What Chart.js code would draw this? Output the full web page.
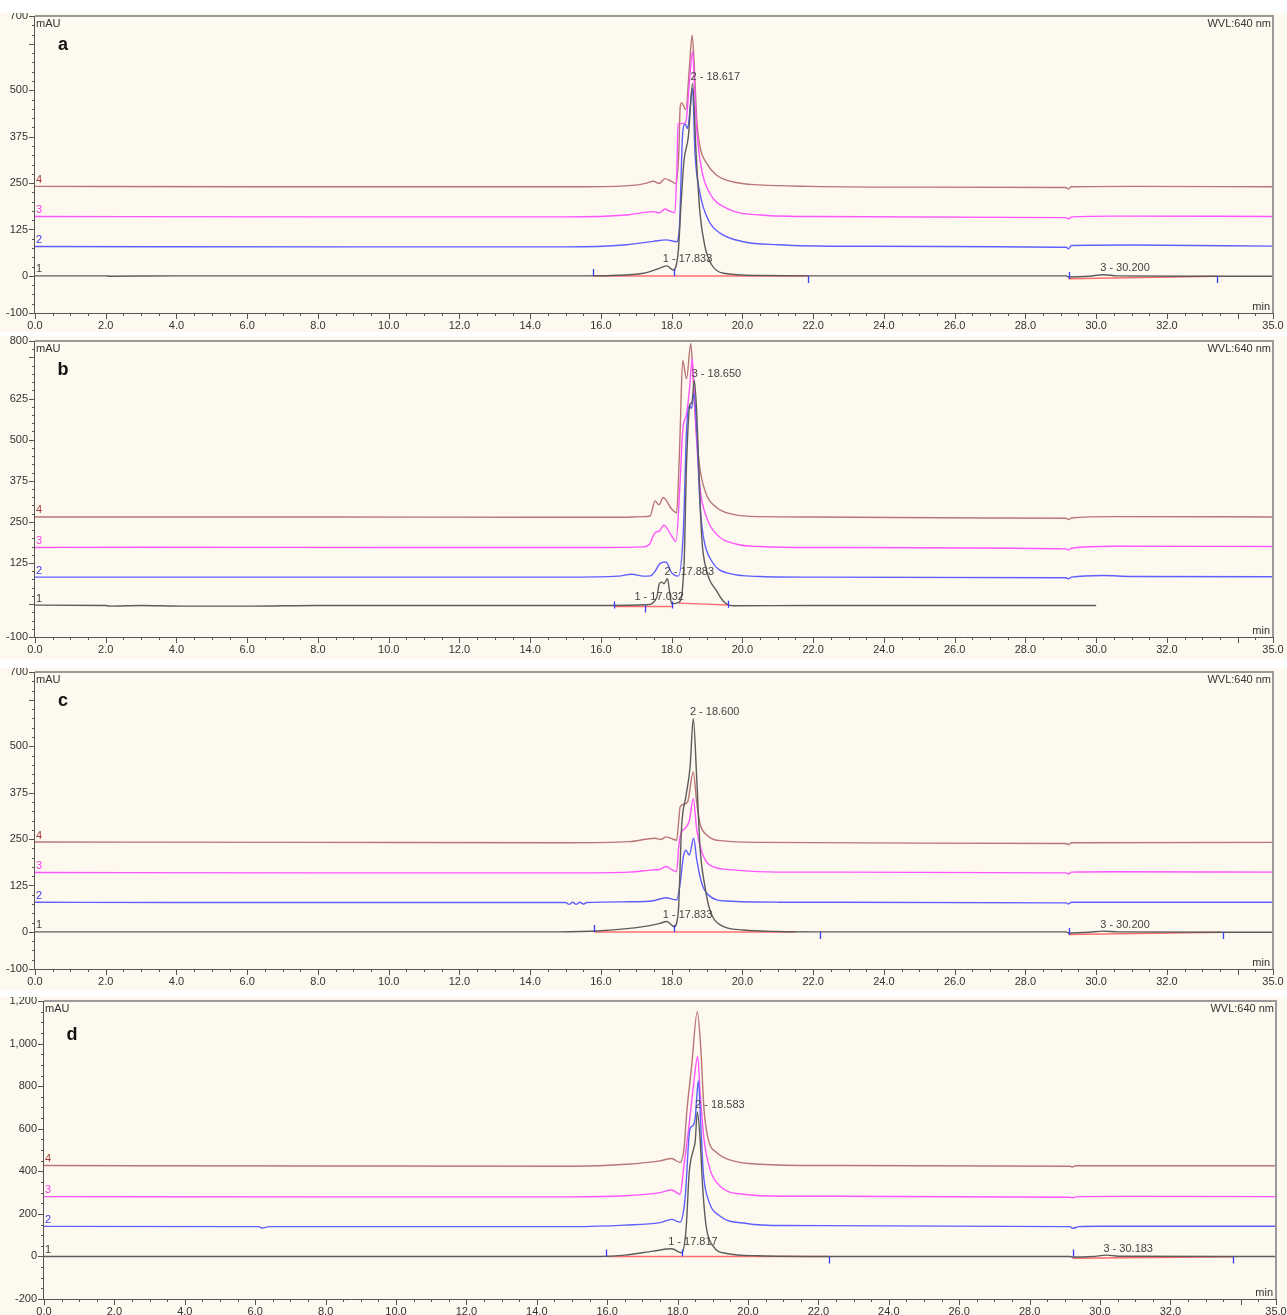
<!DOCTYPE html>
<html>
<head>
<meta charset="utf-8">
<script src="https://cdn.jsdelivr.net/npm/chart.js@4.4.1/dist/chart.umd.min.js"></script>
<style>
body { margin: 0; background: #fff; width: 1287px; height: 1315px; position: relative; overflow: hidden; }
canvas.panel { position: absolute; left: 0; }
</style>
</head>
<body>
<canvas id="chart-a" class="panel"></canvas>
<canvas id="chart-b" class="panel"></canvas>
<canvas id="chart-c" class="panel"></canvas>
<canvas id="chart-d" class="panel"></canvas>
<script>
// retention time (min) and signal (mAU)
const xLabels = [0, 2, 4, 6, 8, 10, 12, 14, 16, 18, 20, 22, 24, 26, 28, 30, 32, 35]

// ---- a ----
const a1 = [[0,0],[2,0],[2.1,-1],[4,0],[8,0],[15.5,0],[16.3,1],[17.2,7],[17.67,21],[17.86,27],[18.05,16],[18.19,70],[18.26,186],[18.35,312],[18.47,374],[18.59,518],[18.69,330],[18.8,169],[18.94,79],[19.13,30],[19.46,7],[20.5,1],[22,0],[29.15,0],[29.22,-3],[29.8,-1],[30.2,3],[30.6,0],[33.4,-1],[35,-1]]
const a2 = [[0,79],[10,78],[15,78],[16.73,84],[17.48,93],[17.84,97],[18.14,92],[18.22,133],[18.31,384],[18.38,409],[18.45,397],[18.52,450],[18.59,505],[18.66,330],[18.8,222],[19.04,150],[19.37,115],[20.03,92],[21,84],[23,80],[29.15,77],[29.22,73],[29.3,82],[31,83],[35,80]]
const a3 = [[0,160],[8,159],[15,159],[16.73,164],[17.48,173],[17.65,170],[17.81,180],[17.95,174],[18.09,170],[18.15,300],[18.18,410],[18.28,410],[18.4,415],[18.5,520],[18.59,603],[18.65,500],[18.71,392],[18.85,285],[19.08,222],[19.56,182],[20.5,164],[22,160],[29.15,157],[29.22,153],[29.3,159],[30.5,161],[35,160]]
const a4 = [[0,241],[6,240],[12,240],[15.5,240],[16.8,243],[17.3,250],[17.48,255],[17.65,249],[17.81,262],[17.98,255],[18.12,249],[18.2,330],[18.24,455],[18.28,466],[18.4,448],[18.5,560],[18.58,648],[18.65,540],[18.71,419],[18.8,348],[18.99,303],[19.27,271],[19.74,253],[20.5,245],[21.9,241],[25,239],[29.15,238],[29.22,234],[29.3,240],[31,241],[35,240]]
const redA = [[[15.78,0],[21.85,0]], [[29.22,-8],[33.42,-1]]]
const marksA = [[15.78,0,-1],[18.07,0,-1],[21.85,0,1],[29.22,0,0],[33.42,0,1]]
const peaksA = [[18.617,518,'2 - 18.617'],[17.833,27,'1 - 17.833'],[30.2,3,'3 - 30.200']]

// ---- b ----
const b1 = [[0,-3],[2,-4],[2.1,-6],[3,-4],[4.2,-6],[6.1,-6],[8,-4],[14,-4],[16.3,-4],[17.3,-2],[17.58,21],[17.65,62],[17.72,67],[17.78,62],[17.88,77],[17.95,31],[18.0,1],[18.2,5],[18.35,122],[18.42,426],[18.52,608],[18.57,612],[18.64,680],[18.71,578],[18.78,375],[18.85,202],[18.99,101],[19.27,40],[19.46,9],[19.74,-5],[22,-4],[30.0,-4]]
const b2 = [[0,82],[8,82],[15,82],[16.5,85],[16.87,91],[17.2,85],[17.4,86],[17.53,100],[17.67,123],[17.84,128],[18.0,95],[18.19,85],[18.33,223],[18.42,527],[18.5,604],[18.56,595],[18.63,640],[18.71,527],[18.8,304],[18.9,202],[19.13,131],[19.56,95],[20.5,84],[22,82],[29.15,80],[29.22,77],[29.3,82],[30.2,87],[31,84],[35,83]]
const b3 = [[0,172],[3,173],[10,172],[16,172],[17.2,174],[17.37,182],[17.53,217],[17.65,222],[17.78,240],[18.0,207],[18.12,190],[18.24,375],[18.31,527],[18.42,578],[18.5,650],[18.58,746],[18.64,640],[18.69,527],[18.8,355],[18.99,263],[19.27,212],[19.84,182],[20.5,175],[22,172],[29.15,168],[29.22,165],[29.3,170],[30.5,176],[35,175]]
const b4 = [[0,265],[8,265],[14,264],[16.5,264],[17.2,266],[17.39,268],[17.53,314],[17.64,302],[17.76,324],[18.0,289],[18.14,278],[18.2,400],[18.24,527],[18.31,741],[18.42,685],[18.54,792],[18.6,700],[18.66,578],[18.78,426],[18.94,345],[19.27,294],[19.74,273],[20.5,266],[22,265],[27,262],[29.15,261],[29.22,257],[29.3,262],[30.5,266],[35,265]]
const redB = [[[16.37,-7],[18.0,-7]], [[18.2,3],[19.58,-3]]]
const marksB = [[16.37,-4,0],[17.25,-4,1],[18.0,-4,0],[19.58,-2,0]]
const peaksB = [[18.65,680,'3 - 18.650'],[17.883,77,'2 - 17.883'],[17.032,3,'1 - 17.032']]

// ---- c ----
const c1 = [[0,0],[8,0],[14.8,0],[16,3],[17.2,14],[17.67,23],[17.86,28],[18.07,14],[18.19,59],[18.28,283],[18.4,364],[18.52,444],[18.61,574],[18.71,409],[18.8,229],[18.94,122],[19.08,59],[19.37,19],[20.03,5],[21,1],[22,0],[29.15,0],[29.22,-3],[29.8,-1],[30.2,2],[30.6,0],[33.5,-1],[35,-1]]
const c2 = [[0,80],[4,79],[10,79],[15.0,79],[15.1,74],[15.2,80],[15.3,74],[15.4,80],[15.5,75],[15.6,79],[16.8,81],[17.48,84],[17.84,92],[18.14,86],[18.24,131],[18.33,202],[18.4,220],[18.5,207],[18.62,252],[18.71,194],[18.85,131],[19.04,99],[19.56,83],[21,80],[29.15,78],[29.22,75],[29.3,80],[35,80]]
const c3 = [[0,160],[8,159],[15,159],[16.8,161],[17.48,167],[17.65,168],[17.84,176],[18.0,168],[18.14,162],[18.2,230],[18.26,265],[18.38,279],[18.5,300],[18.61,359],[18.71,274],[18.85,216],[19.08,180],[19.74,167],[21,161],[29.15,159],[29.22,156],[29.3,161],[30.5,162],[35,161]]
const c4 = [[0,242],[8,241],[15,240],[16.8,243],[17.53,252],[17.7,249],[17.84,256],[18.0,251],[18.14,247],[18.2,300],[18.24,337],[18.35,344],[18.45,350],[18.61,431],[18.71,346],[18.8,292],[18.99,261],[19.46,245],[20.5,241],[25,239],[29.15,238],[29.22,235],[29.3,240],[35,241]]
const redC = [[[15.8,0],[21.5,0]], [[29.22,-7],[33.55,-1]]]
const marksC = [[15.8,0,-1],[18.07,0,-1],[22.2,0,1],[29.22,0,0],[33.6,0,1]]
const peaksC = [[18.6,574,'2 - 18.600'],[17.833,28,'1 - 17.833'],[30.2,2,'3 - 30.200']]

// ---- d ----
const d1 = [[0,0],[8,0],[15.8,0],[16.5,6],[17.31,25],[17.83,36],[18.12,17],[18.24,127],[18.33,394],[18.45,503],[18.5,540],[18.56,679],[18.64,551],[18.71,331],[18.81,143],[19.01,48],[19.39,14],[20.3,3],[22,0],[29.15,0],[29.22,-3],[29.8,0],[30.18,6],[30.6,1],[33.7,0],[35,0]]
const d2 = [[0,141],[6.1,140],[6.2,133],[6.4,140],[10,140],[15,140],[16.5,147],[17.5,159],[17.83,174],[18.07,161],[18.21,268],[18.35,598],[18.43,613],[18.5,650],[18.59,825],[18.66,613],[18.73,394],[18.87,268],[19.2,190],[19.96,155],[21,145],[29.15,140],[29.22,132],[29.4,140],[30,142],[35,142]]
const d3 = [[0,281],[8,280],[15,280],[16.5,285],[17.5,300],[17.83,312],[18.07,292],[18.18,425],[18.3,582],[18.45,801],[18.57,940],[18.64,770],[18.75,551],[18.92,409],[19.2,331],[19.87,292],[21,283],[29.15,278],[29.22,275],[29.3,280],[30.5,282],[35,281]]
const d4 = [[0,427],[8,425],[15,424],[16.55,433],[17.5,449],[17.83,460],[18.07,441],[18.18,504],[18.26,676],[18.4,896],[18.56,1150],[18.66,974],[18.75,692],[18.87,551],[19.11,488],[19.58,449],[20.34,433],[22,427],[29.15,424],[29.22,420],[29.3,426],[35,426]]
const redD = [[[15.97,0],[22.3,0]], [[29.22,-8],[33.78,-2]]]
const marksD = [[15.97,0,-1],[18.12,0,-1],[22.3,0,1],[29.22,0,-1],[33.78,0,1]]
const peaksD = [[18.583,679,'2 - 18.583'],[17.817,36,'1 - 17.817'],[30.183,6,'3 - 30.183']]

const traceColors = ['#5c5c5c', '#5f5fff', '#ff55ff', '#b87676']
const labelColors = ['#444444', '#3c3cf0', '#f040f0', '#a03c3c']
const traceOrder = [0, 2, 3, 4]
const FONT = '"Liberation Sans", Arial, sans-serif'

const panels = [
  { id: 'chart-a', letter: 'a', top: 13, height: 319, areaTop: 16, areaBottom: 313, left: 35, right: 1273, letterDy: 29,
    yMin: -100, yMax: 700, yLabels: [700, 500, 375, 250, 125, 0, -100], yMajor: 125, yMinor: 25,
    traces: [a1, a2, a3, a4], red: redA, marks: marksA, peaks: peaksA },
  { id: 'chart-b', letter: 'b', top: 336, height: 323, areaTop: 341, areaBottom: 637, left: 35, right: 1273, letterDy: 29,
    yMin: -100, yMax: 800, yLabels: [800, 625, 500, 375, 250, 125, -100], yMajor: 125, yMinor: 25,
    traces: [b1, b2, b3, b4], red: redB, marks: marksB, peaks: peaksB },
  { id: 'chart-c', letter: 'c', top: 668, height: 322, areaTop: 672, areaBottom: 969, left: 35, right: 1273, letterDy: 29,
    yMin: -100, yMax: 700, yLabels: [700, 500, 375, 250, 125, 0, -100], yMajor: 125, yMinor: 25,
    traces: [c1, c2, c3, c4], red: redC, marks: marksC, peaks: peaksC },
  { id: 'chart-d', letter: 'd', top: 997, height: 318, areaTop: 1001, areaBottom: 1299, left: 44, right: 1276, letterDy: 34,
    yMin: -200, yMax: 1200, yLabels: [1200, 1000, 800, 600, 400, 200, 0, -200], yMajor: 200, yMinor: 50,
    traces: [d1, d2, d3, d4], red: redD, marks: marksD, peaks: peaksD }
]

function framePlugin(p) {
  return {
    id: 'frame',
    beforeDraw(chart) {
      const ctx = chart.ctx
      ctx.save()
      ctx.fillStyle = '#fef9ee'
      ctx.fillRect(0, 0, chart.width, chart.height)
      ctx.restore()
    },
    afterDraw(chart) {
      const ctx = chart.ctx
      const a = chart.chartArea
      const xs = chart.scales.x, ys = chart.scales.y
      ctx.save()
      // frame
      ctx.strokeStyle = '#9a9a9a'
      ctx.lineWidth = 2
      ctx.beginPath()
      ctx.moveTo(a.left, a.top); ctx.lineTo(a.right, a.top); ctx.lineTo(a.right, a.bottom)
      ctx.stroke()
      ctx.strokeStyle = '#555'
      ctx.lineWidth = 1
      ctx.beginPath()
      ctx.moveTo(a.left - 0.5, a.top); ctx.lineTo(a.left - 0.5, a.bottom + 0.5); ctx.lineTo(a.right, a.bottom + 0.5)
      ctx.stroke()
      // y ticks
      ctx.beginPath()
      for (let v = Math.ceil(p.yMin / p.yMinor) * p.yMinor; v <= p.yMax; v += p.yMinor) {
        const major = v % p.yMajor === 0 || v === p.yMin || v === p.yMax
        const y = Math.round(ys.getPixelForValue(v)) + 0.5
        ctx.moveTo(a.left - (major ? 6 : 3), y); ctx.lineTo(a.left, y)
      }
      // x ticks
      for (let t = 0; t <= 35; t += 0.5) {
        const major = t % 2 === 0 || t === 35
        const x = Math.round(xs.getPixelForValue(t)) + 0.5
        ctx.moveTo(x, a.bottom); ctx.lineTo(x, a.bottom + (major ? 6 : 3))
      }
      ctx.stroke()

      // peak delimiters
      ctx.strokeStyle = '#3a3aff'
      ctx.lineWidth = 1.3
      ctx.beginPath()
      p.marks.forEach(m => {
        const x = Math.round(xs.getPixelForValue(m[0])) + 0.5
        const y = ys.getPixelForValue(m[1])
        const y0 = m[2] < 0 ? y - 7 : m[2] > 0 ? y : y - 4
        ctx.moveTo(x, y0); ctx.lineTo(x, y0 + 7)
      })
      ctx.stroke()

      // texts
      ctx.font = '11px ' + FONT
      ctx.fillStyle = '#333'
      ctx.textBaseline = 'top'
      ctx.textAlign = 'left'
      ctx.fillText('mAU', a.left + 1, a.top + 2)
      ctx.textAlign = 'right'
      ctx.fillText('WVL:640 nm', a.right - 2, a.top + 2)
      ctx.textBaseline = 'bottom'
      ctx.fillText('min', a.right - 3, a.bottom - 1)

      ctx.textAlign = 'left'
      ctx.fillStyle = '#444'
      p.peaks.forEach(pk => {
        ctx.fillText(pk[2], xs.getPixelForValue(pk[0]) - 3, ys.getPixelForValue(pk[1]) - 1)
      })

      p.traces.forEach((tr, i) => {
        ctx.fillStyle = labelColors[i]
        ctx.fillText(String(i + 1), a.left + 1, ys.getPixelForValue(tr[0][1]) - 1)
      })

      ctx.font = 'bold 18px ' + FONT
      ctx.fillStyle = '#111'
      ctx.textAlign = 'center'
      ctx.textBaseline = 'middle'
      ctx.fillText(p.letter, a.left + 28, a.top + p.letterDy)
      ctx.restore()
    }
  }
}

function makeChart(p) {
  const cv = document.getElementById(p.id)
  cv.width = 1287
  cv.height = p.height
  cv.style.top = p.top + 'px'

  const datasets = []
  p.traces.forEach((tr, i) => {
    datasets.push({
      data: tr.map(d => ({ x: d[0], y: d[1] })),
      borderColor: traceColors[i],
      borderWidth: 1.4,
      pointRadius: 0,
      cubicInterpolationMode: 'monotone',
      order: traceOrder[i]
    })
  })
  p.red.forEach(seg => {
    datasets.push({
      data: seg.map(d => ({ x: d[0], y: d[1] })),
      borderColor: '#ff6e6e',
      borderWidth: 1.5,
      pointRadius: 0,
      order: 1
    })
  })

  new Chart(cv, {
    type: 'line',
    data: { datasets: datasets },
    options: {
      responsive: false,
      animation: false,
      devicePixelRatio: 1,
      layout: { padding: { top: p.areaTop - p.top, right: 1287 - p.right, left: 0, bottom: 0 } },
      plugins: { legend: { display: false }, tooltip: { enabled: false } },
      scales: {
        x: {
          type: 'linear', min: 0, max: 35,
          afterBuildTicks: s => { s.ticks = xLabels.map(v => ({ value: v })) },
          ticks: { callback: v => v.toFixed(1), font: { family: FONT, size: 11 }, color: '#333', padding: 6, maxRotation: 0, autoSkip: false },
          grid: { display: false, drawTicks: false },
          border: { display: false },
          afterFit: s => { s.height = p.height - (p.areaBottom - p.top); s.paddingLeft = 0; s.paddingRight = 0 }
        },
        y: {
          type: 'linear', min: p.yMin, max: p.yMax,
          afterBuildTicks: s => { s.ticks = p.yLabels.map(v => ({ value: v })) },
          ticks: { callback: v => v.toLocaleString('en-US'), font: { family: FONT, size: 11 }, color: '#333', padding: 7, autoSkip: false },
          grid: { display: false, drawTicks: false },
          border: { display: false },
          afterFit: s => { s.width = p.left; s.paddingTop = 0; s.paddingBottom = 0 }
        }
      }
    },
    plugins: [framePlugin(p)]
  })
}

panels.forEach(makeChart)
</script>
</body>
</html>
